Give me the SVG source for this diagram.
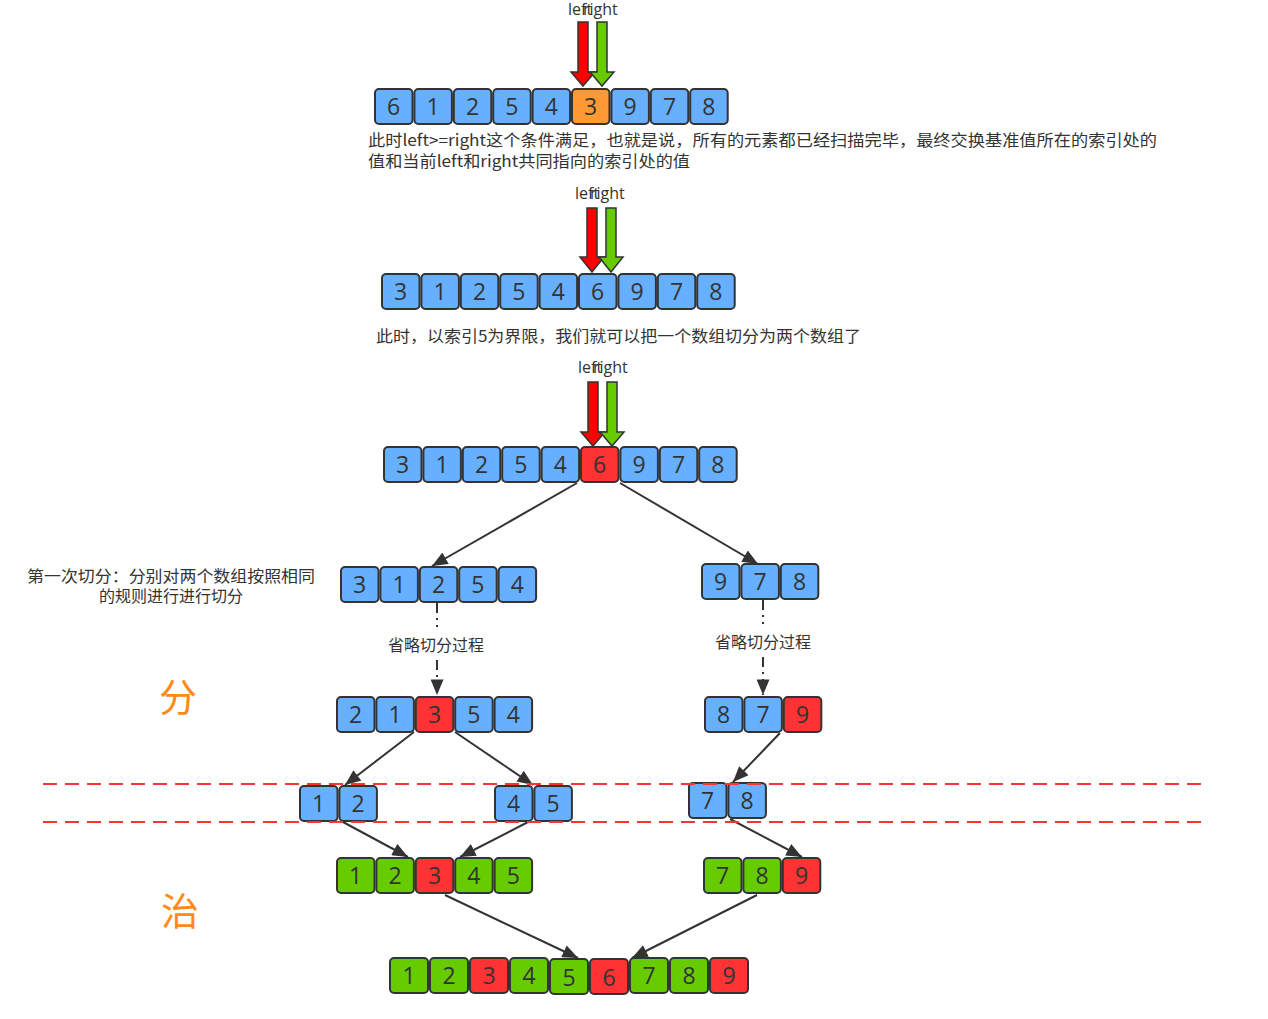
<svg xmlns="http://www.w3.org/2000/svg" width="1268" height="1019" viewBox="0 0 1268 1019">
<defs>
<style>
.b rect{stroke:#333;stroke-width:2;rx:4;ry:4}
.bl{fill:#66B0FF}
.gr{fill:#66CC00}
.rd{fill:#FF3333}
.or{fill:#FF9933}
.b text{font-family:"Open Sans","DejaVu Sans",sans-serif;font-size:23px;fill:#333;text-anchor:middle}
.lbl{font-family:"Open Sans","DejaVu Sans",sans-serif;font-size:16px;fill:#333}
.cn{font-family:"Noto Sans CJK SC",sans-serif;font-size:16px;fill:#333}
.big{font-family:"Noto Sans CJK SC",sans-serif;font-size:38px;fill:#FF8A1A;text-anchor:middle}
.con{stroke:#333;stroke-width:2;fill:none}
.ra{fill:#FF0000;stroke:#333;stroke-width:1.5}
.ga{fill:#66CC00;stroke:#333;stroke-width:1.5}
.dash{stroke:#FF3333;stroke-width:2;stroke-dasharray:14 8}
</style>
<marker id="ah" viewBox="0 0 12 10" refX="12" refY="5" markerWidth="16" markerHeight="13" markerUnits="userSpaceOnUse" orient="auto">
<path d="M0,0 L12,5 L0,10 z" fill="#333"/>
</marker>
</defs>
<rect width="1268" height="1019" fill="#fff"/>

<!-- row 1 -->
<g id="row1" class="b">
<rect class="bl" x="375" y="89" width="37.5" height="35"/><text x="393.7" y="115">6</text>
<rect class="bl" x="414.4" y="89" width="37.5" height="35"/><text x="433.1" y="115">1</text>
<rect class="bl" x="453.8" y="89" width="37.5" height="35"/><text x="472.5" y="115">2</text>
<rect class="bl" x="493.2" y="89" width="37.5" height="35"/><text x="511.9" y="115">5</text>
<rect class="bl" x="532.6" y="89" width="37.5" height="35"/><text x="551.3" y="115">4</text>
<rect class="or" x="572" y="89" width="37.5" height="35"/><text x="590.7" y="115">3</text>
<rect class="bl" x="611.4" y="89" width="37.5" height="35"/><text x="630.1" y="115">9</text>
<rect class="bl" x="650.8" y="89" width="37.5" height="35"/><text x="669.5" y="115">7</text>
<rect class="bl" x="690.2" y="89" width="37.5" height="35"/><text x="708.9" y="115">8</text>
</g>
<g id="ptr1">
<text class="lbl" x="568" y="15">left</text>
<text class="lbl" x="583" y="15">right</text>
<polygon class="ra" points="578,22 588,22 588,72 595,72 583,86 571,72 578,72"/>
<polygon class="ga" points="597,22 607,22 607,72 614,72 602,86 590,72 597,72"/>
</g>
<g id="note1">
<text class="cn" x="368" y="146" textLength="789" lengthAdjust="spacingAndGlyphs">此时left&gt;=right这个条件满足，也就是说，所有的元素都已经扫描完毕，最终交换基准值所在的索引处的</text>
<text class="cn" x="368" y="167" textLength="322" lengthAdjust="spacingAndGlyphs">值和当前left和right共同指向的索引处的值</text>
</g>

<!-- row 2 -->
<g id="row2" class="b">
<rect class="bl" x="382" y="274" width="37.5" height="35"/><text x="400.7" y="300">3</text>
<rect class="bl" x="421.4" y="274" width="37.5" height="35"/><text x="440.1" y="300">1</text>
<rect class="bl" x="460.8" y="274" width="37.5" height="35"/><text x="479.5" y="300">2</text>
<rect class="bl" x="500.2" y="274" width="37.5" height="35"/><text x="518.9" y="300">5</text>
<rect class="bl" x="539.6" y="274" width="37.5" height="35"/><text x="558.3" y="300">4</text>
<rect class="bl" x="579" y="274" width="37.5" height="35"/><text x="597.7" y="300">6</text>
<rect class="bl" x="618.4" y="274" width="37.5" height="35"/><text x="637.1" y="300">9</text>
<rect class="bl" x="657.8" y="274" width="37.5" height="35"/><text x="676.5" y="300">7</text>
<rect class="bl" x="697.2" y="274" width="37.5" height="35"/><text x="715.9" y="300">8</text>
</g>
<g id="ptr2">
<text class="lbl" x="575" y="199">left</text>
<text class="lbl" x="590" y="199">right</text>
<polygon class="ra" points="587,208 597,208 597,257 604,257 592,272 580,257 587,257"/>
<polygon class="ga" points="606,208 616,208 616,257 623,257 611,272 599,257 606,257"/>
</g>
<g id="note2">
<text class="cn" x="376" y="342" textLength="485" lengthAdjust="spacingAndGlyphs">此时，以索引5为界限，我们就可以把一个数组切分为两个数组了</text>
</g>

<!-- row 3 -->
<g id="row3" class="b">
<rect class="bl" x="384" y="447" width="37.5" height="35"/><text x="402.7" y="473">3</text>
<rect class="bl" x="423.4" y="447" width="37.5" height="35"/><text x="442.1" y="473">1</text>
<rect class="bl" x="462.8" y="447" width="37.5" height="35"/><text x="481.5" y="473">2</text>
<rect class="bl" x="502.2" y="447" width="37.5" height="35"/><text x="520.9" y="473">5</text>
<rect class="bl" x="541.6" y="447" width="37.5" height="35"/><text x="560.3" y="473">4</text>
<rect class="rd" x="581" y="447" width="37.5" height="35"/><text x="599.7" y="473">6</text>
<rect class="bl" x="620.4" y="447" width="37.5" height="35"/><text x="639.1" y="473">9</text>
<rect class="bl" x="659.8" y="447" width="37.5" height="35"/><text x="678.5" y="473">7</text>
<rect class="bl" x="699.2" y="447" width="37.5" height="35"/><text x="717.9" y="473">8</text>
</g>
<g id="ptr3">
<text class="lbl" x="578" y="373">left</text>
<text class="lbl" x="593" y="373">right</text>
<polygon class="ra" points="588,382 598,382 598,432 605,432 593,446 581,432 588,432"/>
<polygon class="ga" points="607,382 617,382 617,432 624,432 612,446 600,432 607,432"/>
</g>

<g id="note3">
<text class="cn" x="171" y="582" text-anchor="middle" textLength="288" lengthAdjust="spacingAndGlyphs">第一次切分：分别对两个数组按照相同</text>
<text class="cn" x="171" y="602" text-anchor="middle">的规则进行进行切分</text>
</g>

<g id="L1" class="b">
<rect class="bl" x="341" y="567" width="37.5" height="35"/><text x="359.7" y="593">3</text>
<rect class="bl" x="380.4" y="567" width="37.5" height="35"/><text x="399.1" y="593">1</text>
<rect class="bl" x="419.8" y="567" width="37.5" height="35"/><text x="438.5" y="593">2</text>
<rect class="bl" x="459.2" y="567" width="37.5" height="35"/><text x="477.9" y="593">5</text>
<rect class="bl" x="498.6" y="567" width="37.5" height="35"/><text x="517.3" y="593">4</text>
</g>
<g id="R1" class="b">
<rect class="bl" x="702" y="564" width="37.5" height="35"/><text x="720.7" y="590">9</text>
<rect class="bl" x="741.4" y="564" width="37.5" height="35"/><text x="760.1" y="590">7</text>
<rect class="bl" x="780.8" y="564" width="37.5" height="35"/><text x="799.5" y="590">8</text>
</g>

<g id="skipL"><text class="cn" x="436" y="651" text-anchor="middle">省略切分过程</text></g>
<g id="skipR"><text class="cn" x="763" y="648" text-anchor="middle">省略切分过程</text></g>

<g id="fen"><text class="big" x="178" y="711">分</text></g>
<g id="zhi"><text class="big" x="180" y="925">治</text></g>

<g id="L2" class="b">
<rect class="bl" x="337" y="697" width="37.5" height="35"/><text x="355.7" y="723">2</text>
<rect class="bl" x="376.4" y="697" width="37.5" height="35"/><text x="395.1" y="723">1</text>
<rect class="rd" x="415.8" y="697" width="37.5" height="35"/><text x="434.5" y="723">3</text>
<rect class="bl" x="455.2" y="697" width="37.5" height="35"/><text x="473.9" y="723">5</text>
<rect class="bl" x="494.6" y="697" width="37.5" height="35"/><text x="513.3" y="723">4</text>
</g>
<g id="R2" class="b">
<rect class="bl" x="705" y="697" width="37.5" height="35"/><text x="723.7" y="723">8</text>
<rect class="bl" x="744.4" y="697" width="37.5" height="35"/><text x="763.1" y="723">7</text>
<rect class="rd" x="783.8" y="697" width="37.5" height="35"/><text x="802.5" y="723">9</text>
</g>

<g id="L3a" class="b">
<rect class="bl" x="300" y="786" width="37.5" height="35"/><text x="318.7" y="812">1</text>
<rect class="bl" x="339.4" y="786" width="37.5" height="35"/><text x="358.1" y="812">2</text>
</g>
<g id="L3b" class="b">
<rect class="bl" x="495" y="786" width="37.5" height="35"/><text x="513.7" y="812">4</text>
<rect class="bl" x="534.4" y="786" width="37.5" height="35"/><text x="553.1" y="812">5</text>
</g>
<g id="R3" class="b">
<rect class="bl" x="689" y="783" width="37.5" height="35"/><text x="707.7" y="809">7</text>
<rect class="bl" x="728.4" y="783" width="37.5" height="35"/><text x="747.1" y="809">8</text>
</g>

<g id="L4" class="b">
<rect class="gr" x="337" y="858" width="37.5" height="35"/><text x="355.7" y="884">1</text>
<rect class="gr" x="376.4" y="858" width="37.5" height="35"/><text x="395.1" y="884">2</text>
<rect class="rd" x="415.8" y="858" width="37.5" height="35"/><text x="434.5" y="884">3</text>
<rect class="gr" x="455.2" y="858" width="37.5" height="35"/><text x="473.9" y="884">4</text>
<rect class="gr" x="494.6" y="858" width="37.5" height="35"/><text x="513.3" y="884">5</text>
</g>
<g id="R4" class="b">
<rect class="gr" x="704" y="858" width="37.5" height="35"/><text x="722.7" y="884">7</text>
<rect class="gr" x="743.4" y="858" width="37.5" height="35"/><text x="762.1" y="884">8</text>
<rect class="rd" x="782.8" y="858" width="37.5" height="35"/><text x="801.5" y="884">9</text>
</g>

<g id="final" class="b">
<rect class="gr" x="390" y="958" width="38" height="35"/><text x="409" y="984">1</text>
<rect class="gr" x="430" y="958" width="38" height="35"/><text x="449" y="984">2</text>
<rect class="rd" x="470" y="958" width="38" height="35"/><text x="489" y="984">3</text>
<rect class="gr" x="510" y="958" width="38" height="35"/><text x="529" y="984">4</text>
<rect class="gr" x="550" y="959" width="38" height="35"/><text x="569" y="986">5</text>
<rect class="rd" x="590" y="959" width="38" height="35"/><text x="609" y="986">6</text>
<rect class="gr" x="630" y="958" width="38" height="35"/><text x="649" y="984">7</text>
<rect class="gr" x="670" y="958" width="38" height="35"/><text x="689" y="984">8</text>
<rect class="rd" x="710" y="958" width="38" height="35"/><text x="729" y="984">9</text>
</g>

<g id="connectors">
<line class="con" x1="577" y1="483" x2="432" y2="566" marker-end="url(#ah)"/>
<line class="con" x1="620" y1="483" x2="758" y2="564" marker-end="url(#ah)"/>
<line class="con" x1="437" y1="603" x2="437" y2="627" stroke-dasharray="10 5 2 5"/>
<line class="con" x1="437" y1="660" x2="437" y2="695" stroke-dasharray="10 5 2 5" marker-end="url(#ah)"/>
<line class="con" x1="763" y1="600" x2="763" y2="624" stroke-dasharray="10 5 2 5"/>
<line class="con" x1="763" y1="657" x2="763" y2="695" stroke-dasharray="10 5 2 5" marker-end="url(#ah)"/>
<line class="con" x1="414" y1="732" x2="345" y2="785" marker-end="url(#ah)"/>
<line class="con" x1="455" y1="732" x2="533" y2="785" marker-end="url(#ah)"/>
<line class="con" x1="780" y1="733" x2="733" y2="782" marker-end="url(#ah)"/>
<line class="con" x1="343" y1="822" x2="408" y2="857" marker-end="url(#ah)"/>
<line class="con" x1="528" y1="822" x2="460" y2="857" marker-end="url(#ah)"/>
<line class="con" x1="730" y1="819" x2="802" y2="857" marker-end="url(#ah)"/>
<line class="con" x1="445" y1="895" x2="578" y2="958" marker-end="url(#ah)"/>
<line class="con" x1="757" y1="895" x2="632" y2="958" marker-end="url(#ah)"/>
</g>

<g id="dividers">
<line class="dash" x1="43" y1="784" x2="1207" y2="784"/>
<line class="dash" x1="43" y1="822" x2="1207" y2="822"/>
</g>
</svg>
